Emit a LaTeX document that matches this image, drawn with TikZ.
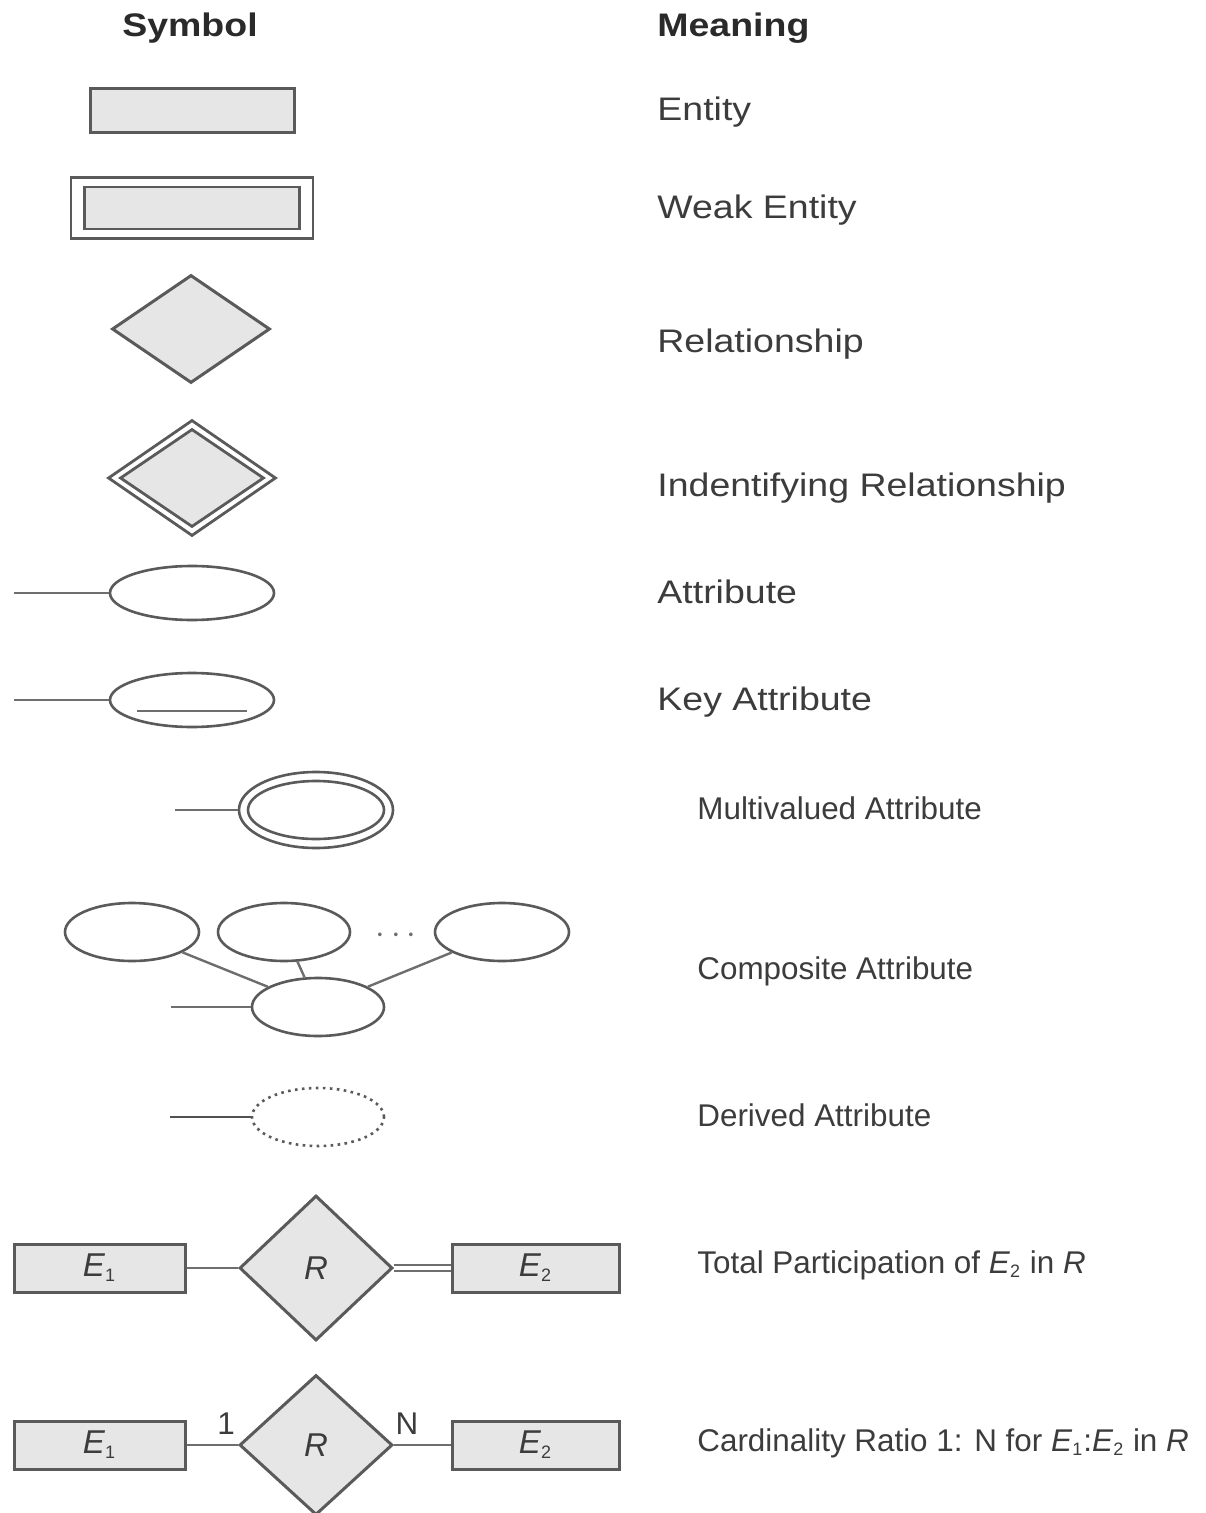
\documentclass[tikz,border=0pt]{standalone}
\usepackage{fontspec}
\setmainfont{Liberation Sans}
\newfontfamily\widefont{Liberation Sans}[FakeStretch=1.15]
\usetikzlibrary{shapes.geometric}
\definecolor{ln}{HTML}{5A5A5A}
\definecolor{cn}{HTML}{6E6E6E}
\definecolor{fl}{HTML}{E6E6E6}
\definecolor{tx}{HTML}{3C3C3C}
\newcommand{\sbx}[1]{\textsubscript{\upshape\fontsize{9}{10}\selectfont #1}}
\begin{document}
\begin{tikzpicture}[x=0.5pt,y=-0.5pt,
  ent/.style={draw=ln, fill=fl, line width=1.5pt, rectangle, inner sep=0pt},
  rel/.style={draw=ln, fill=fl, line width=1.5pt, diamond, inner sep=0pt},
  att/.style={draw=ln, line width=1.3pt, ellipse, inner sep=0pt, fill=white},
  conn/.style={draw=cn, line width=1.2pt},
  lab/.style={anchor=base west, text=tx, font=\widefont\fontsize{16.3}{20}\selectfont, inner sep=0pt},
  labs/.style={anchor=base west, text=tx, font=\fontsize{15.7}{19}\selectfont, inner sep=0pt},
  head/.style={anchor=base, text=tx!70!black, font=\widefont\bfseries\fontsize{16.3}{20}\selectfont, inner sep=0pt},
  sym/.style={text=tx, font=\itshape\fontsize{16.5}{20}\selectfont},
  card/.style={anchor=base, text=tx, font=\fontsize{15.7}{19}\selectfont, inner sep=0pt},
]
\useasboundingbox (0,0) rectangle (1205,1513);
\fill[white] (0,0) rectangle (1205,1513);

% headings
\node[head] (hs) at (190,37) {Symbol};
\node[head, anchor=base west] (hm) at (657,37) {Meaning};

% entity
\node[ent, minimum width=102pt, minimum height=22pt] (ent) at (192,111) {};
\node[lab] (lent) at (657,121) {Entity};

% weak entity
\node[ent, fill=white, line width=1.4pt, minimum width=121pt, minimum height=30.5pt] (wo) at (192,208) {};
\node[ent, line width=1.4pt, minimum width=107.5pt, minimum height=21pt] (wi) at (192,208) {};
\node[lab] (lwe) at (657,219) {Weak Entity};

% relationship
\node[rel, minimum width=79pt, minimum height=54pt] (rel) at (191,329) {};
\node[lab] (lrel) at (657,353) {Relationship};

% identifying relationship
\node[rel, fill=white, line width=1.4pt, minimum width=84pt, minimum height=58pt] (ido) at (192,478) {};
\node[rel, line width=1.4pt, minimum width=72pt, minimum height=49pt] (idi) at (192,478) {};
\node[lab] (lid) at (657,496) {Indentifying Relationship};

% attribute
\coordinate (a0) at (14,593);
\node[att, minimum width=82pt, minimum height=27pt] (att) at (192,593) {};
\draw[conn] (a0) -- (att);
\node[lab] (latt) at (657,603) {Attribute};

% key attribute
\coordinate (k0) at (14,700);
\node[att, minimum width=82pt, minimum height=27pt] (key) at (192,700) {};
\draw[conn] (k0) -- (key);
\draw[conn] (137,711) -- (247,711);
\node[lab] (lkey) at (657,710) {Key Attribute};

% multivalued attribute
\coordinate (m0) at (175,810);
\node[att, minimum width=77pt, minimum height=38pt] (mvo) at (316,810) {};
\node[att, minimum width=68pt, minimum height=29pt] (mvi) at (316,810) {};
\draw[conn] (m0) -- (mvo);
\node[labs] (lmv) at (697,819) {Multivalued Attribute};

% composite attribute
\node[att, minimum width=67pt, minimum height=29pt] (c1) at (132,932) {};
\node[att, minimum width=66pt, minimum height=29pt] (c2) at (284,932) {};
\node[att, minimum width=67pt, minimum height=29pt] (c3) at (502,932) {};
\node[text=cn, font=\fontsize{18}{20}\selectfont] (cdots) at (396,936) {$\cdots$};
\node[att, minimum width=66pt, minimum height=29pt] (cb) at (318,1007) {};
\coordinate (cl) at (171,1007);
\draw[conn] (c1) -- (cb);
\draw[conn] (c2) -- (cb);
\draw[conn] (c3) -- (cb);
\draw[conn] (cl) -- (cb);
\node[labs] (lcomp) at (697,979) {Composite Attribute};

% derived attribute
\coordinate (d0) at (170,1117);
\node[ellipse, draw=ln, line width=1.3pt, dash pattern=on 1.3pt off 2.2pt, inner sep=0pt, minimum width=66pt, minimum height=29pt] (der) at (318,1117) {};
\draw[draw=ln!90!black, line width=1.3pt] (d0) -- (der);
\node[labs] (lder) at (697,1126) {Derived Attribute};

% total participation
\node[ent, minimum width=85.5pt, minimum height=24pt] (te1) at (99.5,1268) {};
\node[sym] at (te1) {E\sbx{1}};
\node[rel, minimum width=76.5pt, minimum height=72.5pt] (tr) at (316,1268) {};
\node[sym] at (tr) {R};
\node[ent, minimum width=83.5pt, minimum height=24pt] (te2) at (535.5,1268) {};
\node[sym] at (te2) {E\sbx{2}};
\draw[conn] (te1) -- (tr);
\draw[draw=cn, line width=0.9pt, double=white, double distance=2pt] (tr.east) -- (te2.west);
\node[labs] (ltp) at (697,1273) {Total Participation of \textit{E}\sbx{2} in \textit{R}};

% cardinality ratio
\node[ent, minimum width=85.5pt, minimum height=24pt] (ce1) at (99.5,1445) {};
\node[sym] at (ce1) {E\sbx{1}};
\node[rel, minimum width=76.5pt, minimum height=70pt] (cr) at (316,1445) {};
\node[sym] at (cr) {R};
\node[ent, minimum width=83.5pt, minimum height=24pt] (ce2) at (535.5,1445) {};
\node[sym] at (ce2) {E\sbx{2}};
\draw[conn] (ce1) -- (cr);
\draw[conn] (cr) -- (ce2);
\node[card] (one) at (226,1434) {1};
\node[card] (nn) at (407,1434) {N};
\node[labs] (lcr) at (697,1451) {Cardinality Ratio 1: N for \textit{E}\sbx{1}:\textit{E}\sbx{2} in \textit{R}};
\end{tikzpicture}
\end{document}
